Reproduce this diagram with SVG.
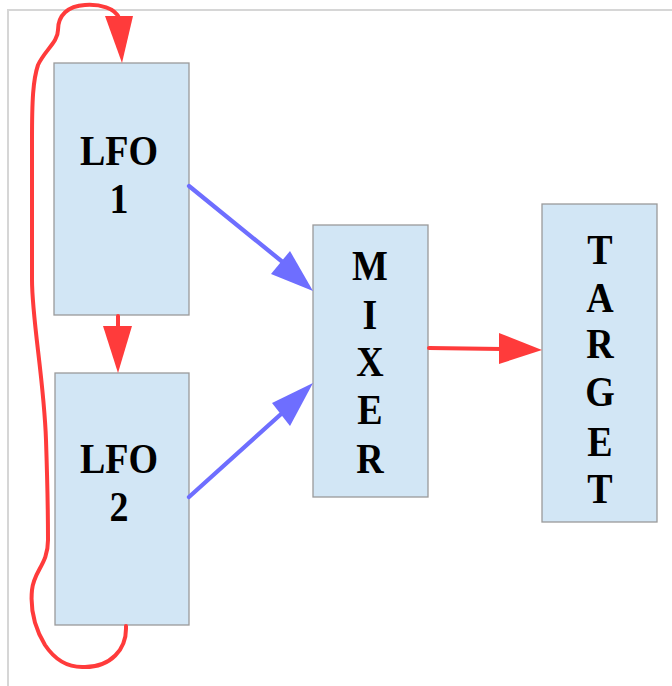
<svg xmlns="http://www.w3.org/2000/svg" width="672" height="686" viewBox="0 0 672 686">
<style>
.box{fill:#d2e6f5;stroke:#9a9a9a;stroke-width:1.3}
.lbl{font-family:"Liberation Serif","Times New Roman",serif;font-weight:bold;font-size:38px;fill:#000;text-anchor:middle}
.red{fill:none;stroke:#ff3b3b;stroke-width:4;stroke-linecap:round}
.blue{fill:none;stroke:#6e6eff;stroke-width:4.3;stroke-linecap:round}
</style>
<rect width="672" height="686" fill="#fff"/>
<path d="M8 686 V10 H672" fill="none" stroke="#d6d6d6" stroke-width="2"/>
<g id="lfo1"><rect class="box" x="54" y="63" width="135" height="252"/><text class="lbl" transform="translate(119 165) scale(1 1.09)">LFO</text><text class="lbl" transform="translate(119 213) scale(1 1.09)">1</text></g>
<g id="lfo2"><rect class="box" x="55" y="373" width="134" height="252"/><text class="lbl" transform="translate(119 473) scale(1 1.09)">LFO</text><text class="lbl" transform="translate(119 521) scale(1 1.09)">2</text></g>
<g id="mixer"><rect class="box" x="313" y="225" width="115" height="272"/>
<text class="lbl" transform="translate(370 280) scale(1 1.09)">M</text><text class="lbl" transform="translate(370 329) scale(1 1.09)">I</text><text class="lbl" transform="translate(370 376) scale(1 1.09)">X</text><text class="lbl" transform="translate(370 424) scale(1 1.09)">E</text><text class="lbl" transform="translate(370 473) scale(1 1.09)">R</text></g>
<g id="target"><rect class="box" x="542" y="204" width="115" height="318"/>
<text class="lbl" transform="translate(600 264) scale(1 1.09)">T</text><text class="lbl" transform="translate(600 312) scale(1 1.09)">A</text><text class="lbl" transform="translate(600 358) scale(1 1.09)">R</text><text class="lbl" transform="translate(600 406) scale(1 1.09)">G</text><text class="lbl" transform="translate(600 456) scale(1 1.09)">E</text><text class="lbl" transform="translate(600 503) scale(1 1.09)">T</text></g>
<g id="connectors">
<path class="blue" d="M189 186 L290 268"/>
<polygon points="313,291 271,274 290,251" fill="#6e6eff"/>
<path class="blue" d="M189 497 L290 406"/>
<polygon points="313,383 272,403 290,426" fill="#6e6eff"/>
<path class="red" d="M429 348 L502 349"/>
<polygon points="542,350 499,333 499,364" fill="#ff3b3b"/>
<path class="red" d="M118 316 L118 328"/>
<polygon points="118,373 103,326 132,326" fill="#ff3b3b"/>
<path class="red" d="M126 626 C127 650 110 667 85 667 C68 668 55 660 45 645 C36 630 30 610 32 590 C34 570 48 565 48 540 C48 500 47 470 46 440 C44 380 32 320 32 280 L32 140 C32 100 33 80 38 65 C45 50 58 42 58 30 C58 15 68 6 85 5 C100 4 115 8 119 18"/>
<polygon points="122,63 105,16 133,16" fill="#ff3b3b"/>
</g>
</svg>
